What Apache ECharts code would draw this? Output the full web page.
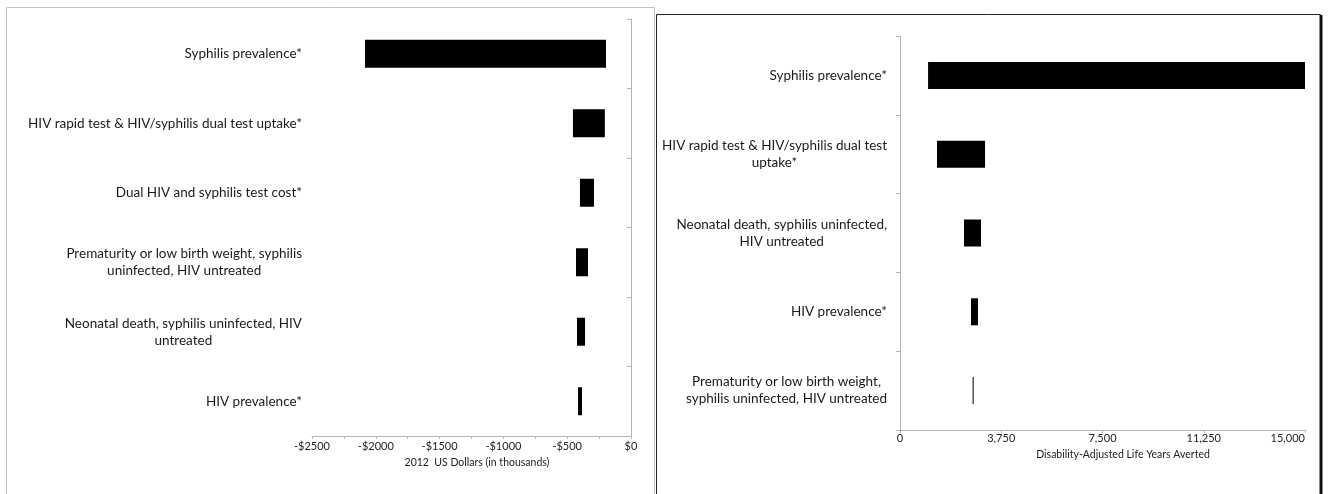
<!DOCTYPE html>
<html>
<head>
<meta charset="utf-8">
<script src="https://cdn.jsdelivr.net/npm/echarts@6/dist/echarts.min.js"></script>
<style>
  html, body { margin: 0; padding: 0; background: #fff; }
  #container { width: 1329px; height: 494px; }
</style>
</head>
<body>
<div id="container"></div>
<script>
// left panel: cost (2012 USD thousands)
var leftCategories = [
  'Syphilis prevalence*',
  'HIV rapid test & HIV/syphilis dual test uptake*',
  'Dual HIV and syphilis test cost*',
  'Prematurity or low birth weight, syphilis\nuninfected, HIV untreated',
  'Neonatal death, syphilis uninfected, HIV\nuntreated',
  'HIV prevalence*'
];
var leftLow = [-2085, -455, -400, -431, -423, -415];
var leftHigh = [-196, -205, -290, -337, -360, -384];
var leftTicks = [-2500, -2000, -1500, -1000, -500, 0];

// right panel: DALYs averted
var rightCategories = [
  'Syphilis prevalence*',
  'HIV rapid test & HIV/syphilis dual test\nuptake*',
  'Neonatal death, syphilis uninfected,\nHIV untreated',
  'HIV prevalence*',
  'Prematurity or low birth weight,\nsyphilis uninfected, HIV untreated'
];
var rightLow = [1040, 1370, 2370, 2630, 2690];
var rightHigh = [15000, 3150, 3000, 2890, 2728];
var rightTicks = [0, 3750, 7500, 11250, 15000];

var FONT = 'Lato';
var axisGray = '#b4b4b4';

function catLabel(v) {
  return v.split('\n').map(function (s) { return '{c|' + s + '}'; }).join('\n');
}
var catRich = { c: { align: 'center', fontSize: 13.5, fontFamily: FONT, color: '#1a1a1a', lineHeight: 17 } };

var dom = document.getElementById('container');
var myChart = echarts.init(dom, null, { renderer: 'canvas' });

var option = {
  animation: false,
  graphic: [
    { type: 'rect', z: -10, shape: { x: 6.5, y: 7.5, width: 648, height: 520 },
      style: { fill: '#fff', stroke: '#c4c4c4', lineWidth: 1 } },
    { type: 'rect', z: -10, shape: { x: 656.5, y: 14.5, width: 664, height: 520 },
      style: { fill: '#fff', stroke: '#222', lineWidth: 1 } },
    { type: 'line', z: -9, shape: { x1: 1321, y1: 15, x2: 1321, y2: 494 },
      style: { stroke: '#111', lineWidth: 3 } }
  ],
  grid: [
    { left: 312, top: 19, width: 319, height: 417 },
    { left: 900, top: 36, width: 405, height: 394 }
  ],
  xAxis: [
    {
      gridIndex: 0, type: 'value',
      min: leftTicks[0], max: leftTicks[leftTicks.length - 1], interval: 500,
      splitLine: { show: false },
      axisLine: { show: true, lineStyle: { color: axisGray } },
      axisTick: { show: true, length: 3, lineStyle: { color: axisGray } },
      minorTick: { show: true, splitNumber: 2, length: 3, lineStyle: { color: axisGray } },
      axisLabel: {
        margin: 5, fontSize: 11, fontFamily: FONT, color: '#222',
        formatter: function (v) { return (v < 0 ? '-' : '') + '$' + Math.abs(v); }
      },
      name: '2012  US Dollars (in thousands)',
      nameLocation: 'middle', nameGap: 16,
      nameTextStyle: { fontSize: 10.5, fontFamily: FONT, color: '#222', padding: [0, 0, 0, 11] }
    },
    {
      gridIndex: 1, type: 'value',
      min: rightTicks[0], max: rightTicks[rightTicks.length - 1], interval: 3750,
      splitLine: { show: false },
      axisLine: { show: true, lineStyle: { color: axisGray } },
      axisTick: { show: true, length: 3, lineStyle: { color: axisGray } },
      axisLabel: {
        margin: 3, fontSize: 11, fontFamily: FONT, color: '#222',
        alignMaxLabel: 'right',
        formatter: function (v) { return v.toLocaleString('en-US'); }
      },
      name: 'Disability-Adjusted Life Years Averted',
      nameLocation: 'middle', nameGap: 18,
      nameTextStyle: { fontSize: 10.5, fontFamily: FONT, color: '#222', padding: [0, 0, 0, 41] }
    }
  ],
  yAxis: [
    {
      gridIndex: 0, type: 'category', inverse: true, data: leftCategories,
      axisLine: { show: true, lineStyle: { color: axisGray } },
      axisTick: { show: true, length: 4, lineStyle: { color: axisGray } },
      axisLabel: { margin: 10, align: 'right', formatter: catLabel, rich: catRich }
    },
    {
      gridIndex: 1, type: 'category', inverse: true, data: rightCategories,
      axisLine: { show: true, lineStyle: { color: axisGray } },
      axisTick: { show: true, length: 4, lineStyle: { color: axisGray } },
      axisLabel: { margin: 13, align: 'right', formatter: catLabel, rich: catRich }
    }
  ],
  series: [
    {
      type: 'bar', xAxisIndex: 0, yAxisIndex: 0, stack: 'l', barWidth: 28,
      itemStyle: { color: 'transparent' }, silent: true,
      data: leftHigh
    },
    {
      type: 'bar', xAxisIndex: 0, yAxisIndex: 0, stack: 'l', barWidth: 28,
      itemStyle: { color: '#000' },
      data: leftLow.map(function (v, i) { return v - leftHigh[i]; })
    },
    {
      type: 'bar', xAxisIndex: 1, yAxisIndex: 1, stack: 'r', barWidth: 27,
      itemStyle: { color: 'transparent' }, silent: true,
      data: rightLow
    },
    {
      type: 'bar', xAxisIndex: 1, yAxisIndex: 1, stack: 'r', barWidth: 27,
      itemStyle: { color: '#000' },
      data: rightHigh.map(function (v, i) { return v - rightLow[i]; })
    }
  ]
};

myChart.setOption(option);
window.addEventListener('resize', myChart.resize);
</script>
</body>
</html>
